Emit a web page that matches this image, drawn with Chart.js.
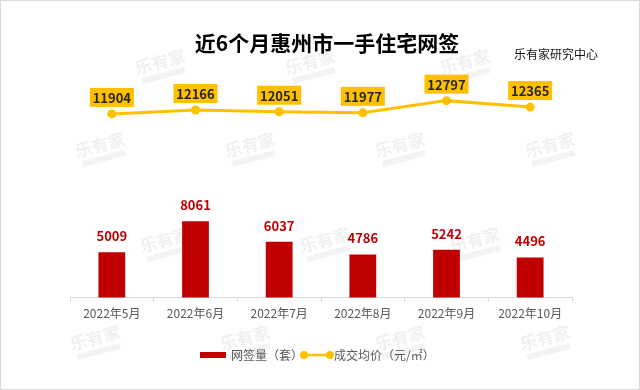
<!DOCTYPE html>
<html>
<head>
<meta charset="utf-8">
<script src="https://cdn.jsdelivr.net/npm/chart.js@4/dist/chart.umd.min.js"></script>
<style>
html,body{margin:0;padding:0;background:#fff;}
#wrap{width:640px;height:390px;position:relative;}
</style>
</head>
<body>
<div id="wrap"><canvas id="c" width="640" height="390"></canvas></div>
<script>
const categories = ["2022年5月","2022年6月","2022年7月","2022年8月","2022年9月","2022年10月"];
const signedUnits = [5009, 8061, 6037, 4786, 5242, 4496];
const avgPrice = [11904, 12166, 12051, 11977, 12797, 12365];
const seriesNames = ["网签量（套）", "成交均价（元/㎡）"];
const titleText = "近6个月惠州市一手住宅网签";
const sourceText = "乐有家研究中心";
const watermarkText = "乐有家";

const CJK = '"Noto Sans CJK SC", "Noto Sans", sans-serif';
const RED = '#C00000';
const GOLD = '#FFC000';

const decor = {
  id: 'decor',
  beforeDraw(chart) {
    const ctx = chart.ctx;
    ctx.save();
    ctx.fillStyle = '#fff';
    ctx.fillRect(0, 0, chart.width, chart.height);
    const marks = [[160,62],[310,62],[465,62],[100,145],[250,145],[400,145],[550,145],
                   [165,240],[325,240],[475,240],[95,338],[245,338],[400,338],[545,338]];
    ctx.fillStyle = '#f0f0f0';
    ctx.font = 'bold 17px ' + CJK;
    ctx.textAlign = 'center';
    ctx.textBaseline = 'middle';
    marks.forEach(([x, y]) => {
      ctx.save();
      ctx.translate(x, y);
      ctx.rotate(-0.26);
      ctx.fillText(watermarkText, 0, 0);
      ctx.fillStyle = '#f3f3f3';
      ctx.fillRect(-22, 11, 44, 6);
      ctx.restore();
    });
    ctx.restore();
  },
  afterDraw(chart) {
    const ctx = chart.ctx;
    ctx.save();
    ctx.strokeStyle = '#d9d9d9';
    ctx.lineWidth = 1;
    ctx.strokeRect(0.5, 0.5, chart.width - 1, chart.height - 1);
    ctx.fillStyle = '#000';
    ctx.font = 'bold 21px ' + CJK;
    ctx.textAlign = 'center';
    ctx.textBaseline = 'middle';
    ctx.fillText(titleText, 327, 43);
    ctx.font = '12px ' + CJK;
    ctx.textAlign = 'left';
    ctx.fillStyle = '#111';
    ctx.fillText(sourceText, 514, 54);

    const barMeta = chart.getDatasetMeta(0);
    ctx.font = 'bold 13px ' + CJK;
    ctx.textAlign = 'center';
    ctx.fillStyle = RED;
    barMeta.data.forEach((el, i) => {
      ctx.fillText(String(signedUnits[i]), el.x, el.y - 16);
    });
    const lineMeta = chart.getDatasetMeta(1);
    lineMeta.data.forEach((el, i) => {
      const w = 44, h = 19;
      const bx = el.x - w / 2, by = el.y - 7 - h;
      ctx.fillStyle = GOLD;
      ctx.fillRect(bx, by, w, h);
      ctx.fillStyle = '#262626';
      ctx.fillText(String(avgPrice[i]), el.x, by + h / 2 + 0.5);
    });

    const ly = 355;
    ctx.fillStyle = RED;
    ctx.fillRect(200, ly - 3, 26, 6);
    ctx.font = '12px ' + CJK;
    ctx.fillStyle = '#595959';
    ctx.textAlign = 'left';
    ctx.fillText(seriesNames[0], 231, ly);
    ctx.strokeStyle = GOLD;
    ctx.lineWidth = 2.5;
    ctx.beginPath();
    ctx.moveTo(304, ly); ctx.lineTo(330, ly); ctx.stroke();
    ctx.fillStyle = GOLD;
    [304, 330].forEach(x => { ctx.beginPath(); ctx.arc(x, ly, 4, 0, Math.PI * 2); ctx.fill(); });
    ctx.fillStyle = '#595959';
    ctx.fillText(seriesNames[1], 334, ly);
    ctx.restore();
  }
};

new Chart(document.getElementById('c'), {
  data: {
    labels: categories,
    datasets: [
      {
        type: 'bar',
        label: seriesNames[0],
        data: signedUnits,
        backgroundColor: RED,
        yAxisID: 'yBar',
        categoryPercentage: 1,
        barPercentage: 0.32,
        order: 2
      },
      {
        type: 'line',
        label: seriesNames[1],
        data: avgPrice,
        borderColor: GOLD,
        backgroundColor: GOLD,
        borderWidth: 3,
        pointRadius: 4.5,
        pointBackgroundColor: GOLD,
        pointBorderWidth: 0,
        tension: 0,
        yAxisID: 'yLine',
        order: 1
      }
    ]
  },
  options: {
    responsive: false,
    devicePixelRatio: 1,
    animation: false,
    layout: { padding: { left: 70, right: 68, top: 60, bottom: 64 } },
    plugins: { legend: { display: false }, tooltip: { enabled: false }, title: { display: false } },
    scales: {
      x: {
        grid: { display: true, drawOnChartArea: false, tickLength: 4, color: '#d9d9d9' },
        border: { display: true, color: '#d9d9d9', width: 1 },
        ticks: { color: '#595959', font: { family: CJK, size: 12 }, padding: 5, maxRotation: 0 }
      },
      yBar: { display: false, min: 540, max: 23920 },
      yLine: { display: false, min: -442, max: 15528 }
    }
  },
  plugins: [decor]
});
</script>
</body>
</html>
